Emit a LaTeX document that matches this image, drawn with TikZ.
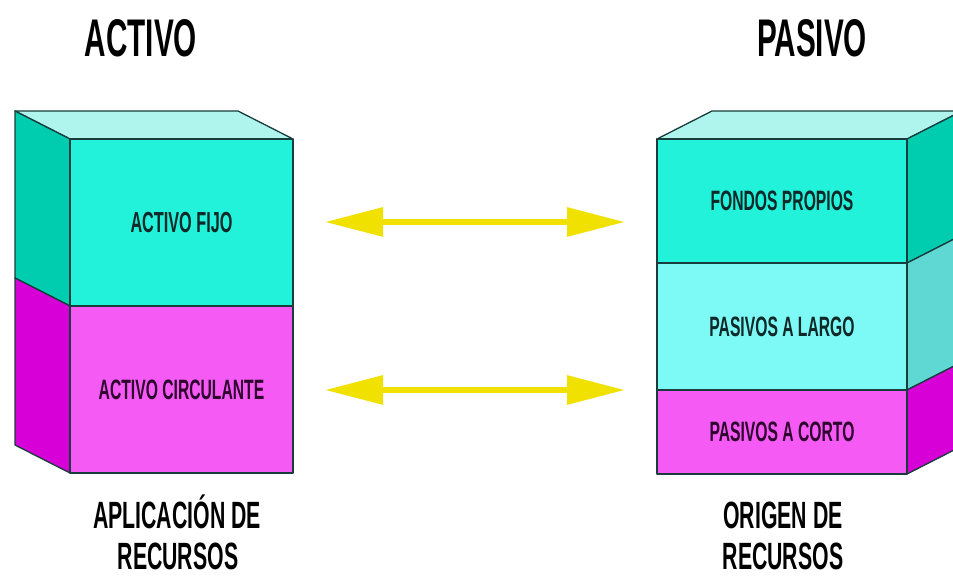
\documentclass[tikz,border=0pt]{standalone}
\usepackage{fontspec}
\usetikzlibrary{arrows.meta}
\newfontfamily\bebas[FakeStretch=0.56]{Liberation Sans Bold}
\definecolor{topF}{RGB}{175,245,238}
\definecolor{cyanF}{RGB}{35,242,218}
\definecolor{cyanS}{RGB}{0,205,175}
\definecolor{lightF}{RGB}{125,250,245}
\definecolor{lightS}{RGB}{95,215,210}
\definecolor{magF}{RGB}{245,90,245}
\definecolor{magS}{RGB}{215,0,215}
\definecolor{arrowY}{RGB}{240,225,0}
\definecolor{edgeC}{RGB}{25,60,60}
\definecolor{txtC}{RGB}{15,40,40}
\definecolor{txtM}{RGB}{45,5,45}
\tikzset{
  edge/.style={draw=edgeC, line width=1.3pt, line join=round},
  face/.style={edge, rectangle, inner sep=0pt, outer sep=0pt, font=\bebas\fontsize{29}{32}\selectfont},
  title/.style={font=\bebas\fontsize{53}{56}\selectfont, text=black, inner sep=0pt},
  caption/.style={font=\bebas\fontsize{38}{46}\selectfont, text=black, inner sep=0pt},
  link/.style={draw=arrowY, line width=6pt, {Triangle[length=58pt,width=28pt]}-{Triangle[length=58pt,width=28pt]}}
}
\begin{document}
\begin{tikzpicture}[x=1pt,y=-1pt]
\useasboundingbox (0,0) rectangle (953,580);
\clip (0,0) rectangle (953,580);
\fill[white] (0,0) rectangle (953,580);
% ---------- left box ----------
\draw[edge, fill=topF] (70,139) -- (15,111) -- (238,111) -- (293,139) -- cycle;
\draw[edge, fill=cyanS] (70,139) -- (15,111) -- (15,278) -- (70,306) -- cycle;
\draw[edge, fill=magS] (70,306) -- (15,278) -- (15,445) -- (70,473) -- cycle;
\node[face, fill=cyanF, text=txtC, minimum width=223pt, minimum height=167pt] (fijo) at (181.5,222.5) {ACTIVO FIJO};
\node[face, fill=magF, text=txtM, minimum width=223pt, minimum height=167pt, font=\bebas\fontsize{28}{32}\selectfont] (circ) at (181.5,389.5) {ACTIVO CIRCULANTE};
% ---------- right box ----------
\draw[edge, fill=topF] (657,139) -- (712,111) -- (962,111) -- (907,139) -- cycle;
\draw[edge, fill=cyanS] (907,139) -- (962,111) -- (962,235) -- (907,263) -- cycle;
\draw[edge, fill=lightS] (907,263) -- (962,235) -- (962,362) -- (907,390) -- cycle;
\draw[edge, fill=magS] (907,390) -- (962,362) -- (962,446) -- (907,474) -- cycle;
\node[face, fill=cyanF, text=txtC, minimum width=250pt, minimum height=124pt, font=\bebas\fontsize{28}{32}\selectfont] (fondos) at (782,201) {FONDOS PROPIOS};
\node[face, fill=lightF, text=txtC, minimum width=250pt, minimum height=127pt, font=\bebas\fontsize{28}{32}\selectfont] (largo) at (782,326.5) {PASIVOS A LARGO};
\node[face, fill=magF, text=txtM, minimum width=250pt, minimum height=84pt, font=\bebas\fontsize{28}{32}\selectfont] (corto) at (782,432) {PASIVOS A CORTO};
% ---------- arrows ----------
\coordinate (a1) at (325,222);
\coordinate (b1) at (625,222);
\coordinate (a2) at (325,390);
\coordinate (b2) at (625,390);
\draw[link] (a1) -- (b1);
\draw[link] (a2) -- (b2);
% ---------- titles ----------
\node[title, anchor=base] (tact) at (141,57) {ACTIVO};
\node[title, anchor=base] (tpas) at (812,57) {PASIVO};
\node[caption, anchor=base] (capl1) at (177,528) {APLICACIÓN DE};
\node[caption, anchor=base] (capl2) at (178,569) {RECURSOS};
\node[caption, anchor=base] (capr1) at (783,528) {ORIGEN DE};
\node[caption, anchor=base] (capr2) at (783,569) {RECURSOS};
\end{tikzpicture}
\end{document}
